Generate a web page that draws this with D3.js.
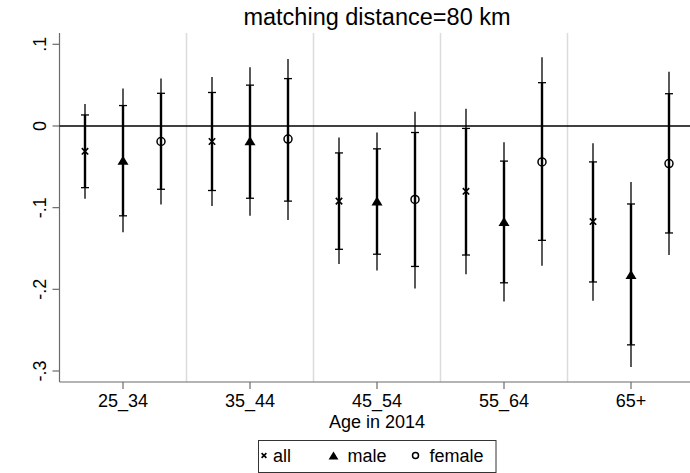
<!DOCTYPE html>
<html>
<head>
<meta charset="utf-8">
<script src="https://cdn.jsdelivr.net/npm/d3@7"></script>
<style>
  body { margin: 0; background: #fff; }
  text { font-family: "Liberation Sans", Arial, sans-serif; fill: #000; }
</style>
</head>
<body>
<svg id="chart" width="690" height="473"></svg>
<script>
// data
const categories = ["25_34", "35_44", "45_54", "55_64", "65+"];
const seriesNames = ["all", "male", "female"];

const est = {
  all:    [-0.031, -0.019, -0.092, -0.080, -0.117],
  male:   [-0.042, -0.018, -0.092, -0.117, -0.182],
  female: [-0.019, -0.016, -0.090, -0.044, -0.046]
};
// 90% interval (thick part with caps)
const lo90 = {
  all:    [-0.0755, -0.079, -0.151, -0.158, -0.191],
  male:   [-0.110, -0.0885, -0.157, -0.192, -0.268],
  female: [-0.0775, -0.092, -0.172, -0.140, -0.131]
};
const hi90 = {
  all:    [0.0135, 0.041, -0.033, -0.003, -0.044],
  male:   [0.025, 0.050, -0.028, -0.043, -0.0955],
  female: [0.040, 0.058, -0.008, 0.053, 0.0395]
};
// 95% interval (thin whiskers)
const lo95 = {
  all:    [-0.089, -0.098, -0.169, -0.1815, -0.214],
  male:   [-0.130, -0.110, -0.177, -0.215, -0.295],
  female: [-0.096, -0.115, -0.199, -0.171, -0.158]
};
const hi95 = {
  all:    [0.027, 0.060, -0.014, 0.021, -0.021],
  male:   [0.046, 0.072, -0.008, -0.020, -0.0685],
  female: [0.058, 0.082, 0.0175, 0.084, 0.0665]
};
const yTicks = [0.1, 0, -0.1, -0.2, -0.3];
const yTickLabels = [".1", "0", "-.1", "-.2", "-.3"];

const svg = d3.select("#chart");
const plotLeft = 59.5, plotRight = 694.5, plotTop = 33, plotBottom = 382;

const x = d3.scaleBand().domain(categories).range([plotLeft, plotRight]);
const off = d3.scalePoint().domain(seriesNames).range([-38, 38]);
const y = d3.scaleLinear().domain([-0.3, 0.1]).range([371, 44.3]);

// separators between groups
svg.selectAll(".sep")
  .data(categories.slice(1))
  .enter().append("line")
  .attr("x1", d => x(d)).attr("x2", d => x(d))
  .attr("y1", plotTop).attr("y2", plotBottom)
  .attr("stroke", "#dcdcdc").attr("stroke-width", 1.5);

// y axis
const yAxis = svg.append("g").attr("transform", `translate(${plotLeft},0)`);
yAxis.append("line").attr("x1", 0).attr("x2", 0).attr("y1", plotTop).attr("y2", plotBottom)
  .attr("stroke", "#6b6b6b").attr("stroke-width", 1.2);
yAxis.selectAll(".yt").data(yTicks).enter().append("line")
  .attr("x1", -7).attr("x2", 0)
  .attr("y1", d => y(d)).attr("y2", d => y(d))
  .attr("stroke", "#6b6b6b").attr("stroke-width", 1.2);
yAxis.selectAll(".yl").data(yTicks).enter().append("text")
  .attr("transform", d => `translate(-14,${y(d)}) rotate(-90)`)
  .attr("text-anchor", "middle")
  .style("font-size", "18px")
  .text((d, i) => yTickLabels[i]);

// x axis
const xAxis = svg.append("g").attr("transform", `translate(0,${plotBottom})`);
xAxis.append("line").attr("x1", plotLeft).attr("x2", 690).attr("y1", 0).attr("y2", 0)
  .attr("stroke", "#6b6b6b").attr("stroke-width", 1.2);
xAxis.selectAll(".xt").data(categories).enter().append("line")
  .attr("x1", d => x(d) + x.bandwidth() / 2).attr("x2", d => x(d) + x.bandwidth() / 2)
  .attr("y1", 0).attr("y2", 7)
  .attr("stroke", "#6b6b6b").attr("stroke-width", 1.2);
xAxis.selectAll(".xl").data(categories).enter().append("text")
  .attr("x", d => x(d) + x.bandwidth() / 2).attr("y", 25)
  .attr("text-anchor", "middle")
  .style("font-size", "18px")
  .text(d => d);

// zero line
svg.append("line").attr("x1", plotLeft).attr("x2", 690)
  .attr("y1", y(0)).attr("y2", y(0))
  .attr("stroke", "#000").attr("stroke-width", 1.6);

// build rows
const rows = [];
seriesNames.forEach(s => {
  categories.forEach((c, i) => {
    rows.push({
      s, c,
      cx: x(c) + x.bandwidth() / 2 + off(s),
      est: est[s][i], lo90: lo90[s][i], hi90: hi90[s][i],
      lo95: lo95[s][i], hi95: hi95[s][i]
    });
  });
});

const g = svg.append("g");
// thin 95% whiskers
g.selectAll(".w95").data(rows).enter().append("line")
  .attr("x1", d => d.cx).attr("x2", d => d.cx)
  .attr("y1", d => y(d.hi95)).attr("y2", d => y(d.lo95))
  .attr("stroke", "#000").attr("stroke-width", 1.3);
// thick 90% bars
g.selectAll(".w90").data(rows).enter().append("line")
  .attr("x1", d => d.cx).attr("x2", d => d.cx)
  .attr("y1", d => y(d.hi90)).attr("y2", d => y(d.lo90))
  .attr("stroke", "#000").attr("stroke-width", 2.4);
// caps on the 90% bars
["lo90", "hi90"].forEach(k => {
  g.selectAll(".cap" + k).data(rows).enter().append("line")
    .attr("x1", d => d.cx - 4).attr("x2", d => d.cx + 4)
    .attr("y1", d => y(d[k])).attr("y2", d => y(d[k]))
    .attr("stroke", "#000").attr("stroke-width", 1.3);
});

function drawMarker(sel, s, size) {
  if (s === "all") {
    const h = size * 0.32;
    sel.append("path")
      .attr("d", `M${-h},${-h}L${h},${h}M${-h},${h}L${h},${-h}`)
      .attr("stroke", "#000").attr("stroke-width", 1.6).attr("fill", "none");
  } else if (s === "male") {
    const w = size * 0.55, hh = size * 0.45;
    sel.append("path")
      .attr("d", `M0,${-hh}L${w},${hh}L${-w},${hh}Z`)
      .attr("fill", "#000");
  } else {
    sel.append("circle").attr("r", size * 0.4)
      .attr("fill", "none").attr("stroke", "#000").attr("stroke-width", 1.5);
  }
}

rows.forEach(d => {
  const m = g.append("g").attr("transform", `translate(${d.cx},${y(d.est)})`);
  drawMarker(m, d.s, 10);
});

// title
svg.append("text").attr("x", (plotLeft + plotRight) / 2).attr("y", 25)
  .attr("text-anchor", "middle")
  .style("font-size", "23.5px")
  .text("matching distance=80 km");

// x axis title
svg.append("text").attr("x", (plotLeft + plotRight) / 2).attr("y", 427.5)
  .attr("text-anchor", "middle")
  .style("font-size", "18px")
  .text("Age in 2014");

// legend
const legend = svg.append("g");
legend.append("rect").attr("x", 258.5).attr("y", 440.5)
  .attr("width", 237.5).attr("height", 32)
  .attr("fill", "#fff").attr("stroke", "#333").attr("stroke-width", 1);
const legendX = [264, 333.5, 415.5];
seriesNames.forEach((s, i) => {
  const m = legend.append("g").attr("transform", `translate(${legendX[i]},455.5)`);
  drawMarker(m, s, s === "male" ? 9 : 7.5);
  legend.append("text").attr("x", legendX[i] + (s === "all" ? 9 : 14)).attr("y", 462)
    .style("font-size", "18px")
    .text(s);
});
</script>
</body>
</html>
